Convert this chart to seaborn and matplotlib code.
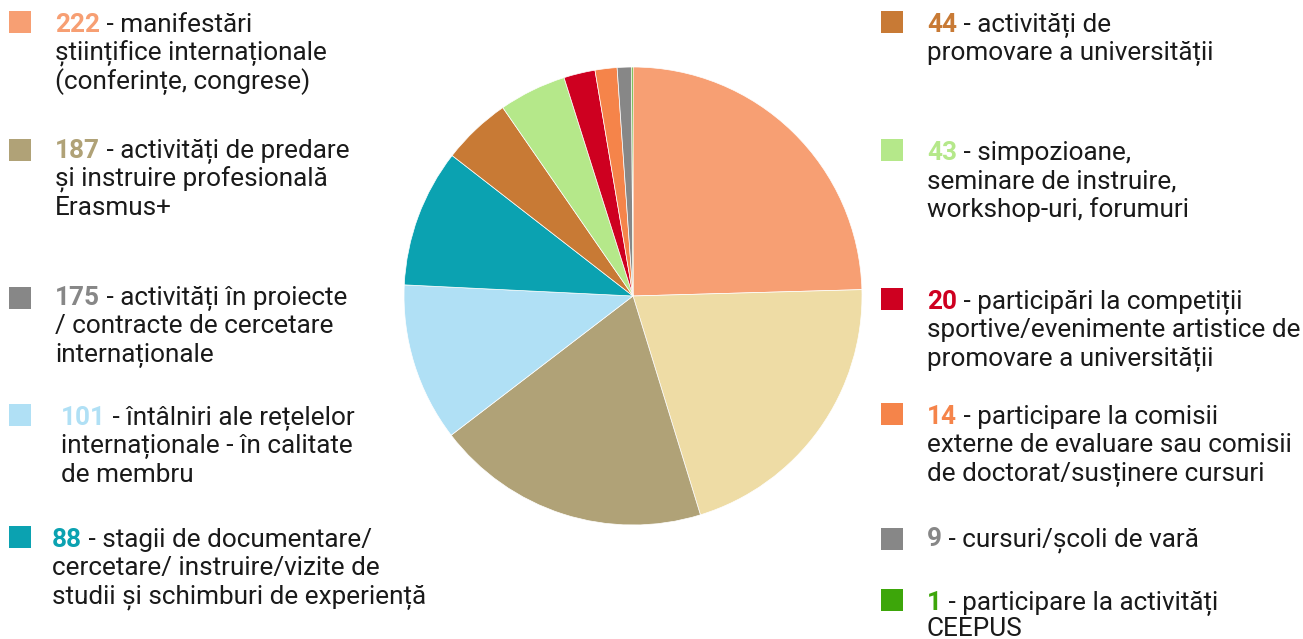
import matplotlib
matplotlib.use("Agg")
import matplotlib.pyplot as plt
from matplotlib.patches import Rectangle
import seaborn as sns

sns.set_theme(style="white")
plt.rcParams["font.family"] = ["Roboto", "DejaVu Sans"]

# Activity counts (pie order, clockwise from 12 o'clock)
values = [222, 187, 175, 101, 88, 44, 43, 20, 14, 9, 1]
descriptions = [
    ["- manifestări", "științifice internaționale", "(conferințe, congrese)"],
    ["- activități de predare", "și instruire profesională", "Erasmus+"],
    ["- activități în proiecte", "/ contracte de cercetare", "internaționale"],
    ["- întâlniri ale rețelelor", "internaționale - în calitate", "de membru"],
    ["- stagii de documentare/", "cercetare/ instruire/vizite de", "studii și schimburi de experiență"],
    ["- activități de", "promovare a universității"],
    ["- simpozioane,", "seminare de instruire,", "workshop-uri, forumuri"],
    ["- participări la competiții", "sportive/evenimente artistice de", "promovare a universității"],
    ["- participare la comisii", "externe de evaluare sau comisii", "de doctorat/susținere cursuri"],
    ["- cursuri/școli de vară"],
    ["- participare la activități", "CEEPUS"],
]
slice_colors = ["#F79F73", "#EEDCA5", "#B0A277", "#B0E0F5", "#0BA2B1", "#C87A35",
                "#B5E88A", "#CE0020", "#F5844A", "#878787", "#3DA60A"]
key_colors = ["#F79F73", "#B0A277", "#878787", "#B0E0F5", "#0BA2B1", "#C87A35",
              "#B5E88A", "#CE0020", "#F5844A", "#878787", "#3DA60A"]

W, H = 1303, 639
fig = plt.figure(figsize=(W / 100, H / 100), dpi=100)
fig.patch.set_facecolor("white")

# Pie
cx, cy, r = 633, 296, 229
ax = fig.add_axes([(cx - r) / W, (H - cy - r) / H, 2 * r / W, 2 * r / H])
ax.pie(values, colors=slice_colors, startangle=90, counterclock=False,
       radius=1.0, wedgeprops=dict(edgecolor="white", linewidth=0.5))
ax.set_xlim(-1.0, 1.0)
ax.set_ylim(-1.0, 1.0)
ax.set_aspect("equal")
ax.axis("off")

# Legend layout (pixel coordinates, y from top)
sq_x = [9] * 5 + [881] * 6
sq_y = [11, 139, 287, 404, 526, 11, 139, 288, 403, 528, 589]
txt_x = [55, 55, 55, 61, 52, 927, 927, 927, 927, 927, 927]
base_y = [32, 158, 305, 425, 547, 32, 160, 309, 424, 546, 610]
line_steps = [28.3] * 10 + [26.0]
sq_size = 22
fs = 18.8
text_color = "#1a1a1a"

fig.canvas.draw()
renderer = fig.canvas.get_renderer()

def fx(px):
    return px / W

def fy(py):
    return 1 - py / H

for i, v in enumerate(values):
    fig.add_artist(Rectangle((fx(sq_x[i]), fy(sq_y[i] + sq_size)), sq_size / W, sq_size / H,
                             transform=fig.transFigure, facecolor=key_colors[i],
                             edgecolor="none"))
    num = fig.text(fx(txt_x[i]), fy(base_y[i]), str(v), color=key_colors[i],
                   fontsize=fs, fontweight="bold", va="baseline", ha="left")
    bb = num.get_window_extent(renderer=renderer)
    for j, line in enumerate(descriptions[i]):
        if j == 0:
            fig.text(bb.x1 / W, fy(base_y[i]), " " + line, color=text_color,
                     fontsize=fs, va="baseline", ha="left")
        else:
            fig.text(fx(txt_x[i]), fy(base_y[i] + j * line_steps[i]), line, color=text_color,
                     fontsize=fs, va="baseline", ha="left")

fig.savefig("out.png", dpi=100, facecolor="white")
